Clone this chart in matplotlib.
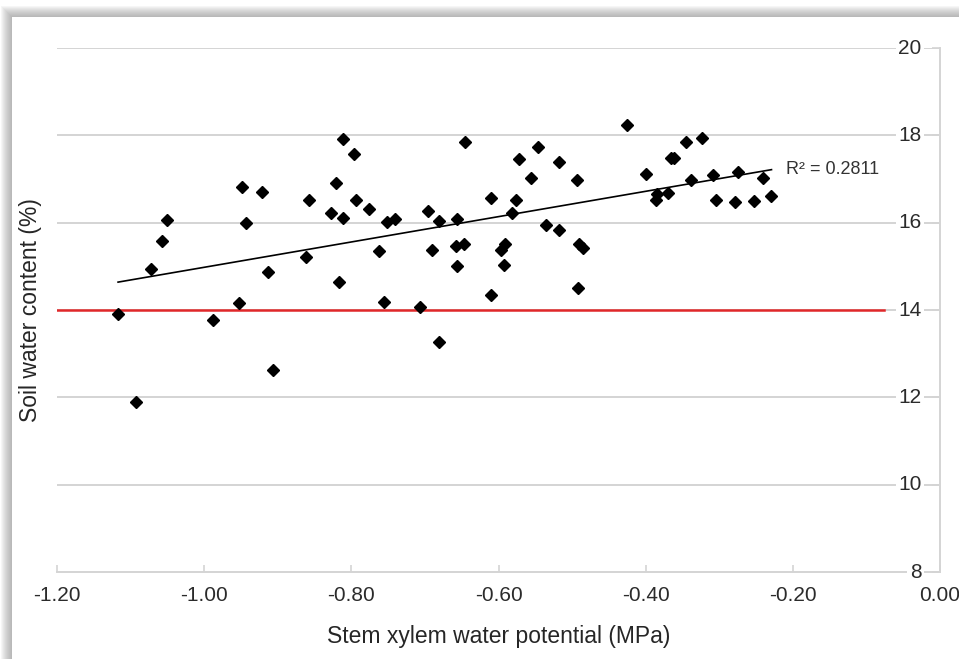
import matplotlib
import matplotlib.pyplot as plt
import numpy as np
from matplotlib.patches import Rectangle

matplotlib.use("AGG")  # no display

# stem xylem water potential (MPa)
potential = [
    -1.117, -1.092, -1.072, -1.057, -1.051, -0.988, -0.952, -0.948, -0.943, -0.922,
    -0.913, -0.906, -0.862, -0.857, -0.828, -0.821, -0.817, -0.812, -0.812, -0.797,
    -0.793, -0.776, -0.763, -0.756, -0.752, -0.741, -0.707, -0.696, -0.690, -0.681,
    -0.681, -0.657, -0.658, -0.657, -0.647, -0.646, -0.610, -0.610, -0.597, -0.591,
    -0.592, -0.581, -0.576, -0.572, -0.556, -0.546, -0.535, -0.518, -0.518, -0.493,
    -0.492, -0.491, -0.485, -0.425, -0.400, -0.386, -0.385, -0.370, -0.366, -0.361,
    -0.345, -0.339, -0.324, -0.309, -0.305, -0.279, -0.274, -0.253, -0.240, -0.229,
]
# soil water content (%)
soil_water = [
    13.91, 11.89, 14.94, 15.58, 16.06, 13.77, 14.16, 16.82, 15.99, 16.70,
    14.87, 12.63, 15.21, 16.52, 16.22, 16.91, 14.64, 17.92, 16.11, 17.57,
    16.52, 16.31, 15.35, 14.18, 16.02, 16.08, 14.07, 16.27, 15.37, 16.04,
    13.27, 16.08, 15.47, 15.01, 15.51, 17.85, 14.34, 16.57, 15.37, 15.51,
    15.03, 16.22, 16.52, 17.46, 17.02, 17.73, 15.95, 17.39, 15.83, 16.98,
    14.50, 15.51, 15.42, 18.24, 17.11, 16.52, 16.66, 16.68, 17.48, 17.48,
    17.85, 16.98, 17.94, 17.09, 16.52, 16.47, 17.16, 16.50, 17.02, 16.61,
]
threshold = 14
r_squared_label = "R² = 0.2811"

x_ticks = [-1.20, -1.00, -0.80, -0.60, -0.40, -0.20, 0.00]
y_ticks = [8, 10, 12, 14, 16, 18, 20]

plt.rcParams["font.family"] = ["Liberation Sans", "DejaVu Sans"]

fig = plt.figure(figsize=(9.59, 6.59), dpi=100)
W, H = 959, 659

# drop shadow round the white panel
for i in range(12):
    fig.patches.append(Rectangle(((12 - i) / W, 0), 1, (H - 17 + i) / H,
                                 transform=fig.transFigure, color="#888888",
                                 alpha=0.07, lw=0, zorder=-3))
fig.patches.append(Rectangle((12 / W, 0), 1, (H - 17) / H, transform=fig.transFigure,
                             color="white", lw=0, zorder=-2))

ax = fig.add_axes([57 / W, 87 / H, 883 / W, 524 / H])
ax.patch.set_alpha(0)

grid_col = "#d4d4d4"
tick_col = "#2b2b2b"
for y in y_ticks[1:]:
    ax.axhline(y, color=grid_col, lw=1.4, zorder=1)
ax.axhline(threshold, xmax=0.937, color="#e0282a", lw=1.8, zorder=2)

ax.plot(potential, soil_water, ls="none", marker="D", ms=5.8, color="black", zorder=4)

# linear trend line over the range of the data
slope, intercept = np.polyfit(potential, soil_water, 1)
fit_x = np.array([min(potential), max(potential)])
ax.plot(fit_x, slope * fit_x + intercept, color="black", lw=1.2, zorder=3)
ax.text(fit_x[1] + 0.02, slope * fit_x[1] + intercept, r_squared_label,
        fontsize=13, color="#333333", va="center", ha="left")

ax.set_xlim(-1.20, 0.0)
ax.set_ylim(8, 20)

for side in ["top", "left"]:
    ax.spines[side].set_visible(False)
ax.spines["bottom"].set_color(grid_col)
ax.spines["right"].set_color(grid_col)
ax.spines["bottom"].set_linewidth(1.4)
ax.spines["right"].set_linewidth(1.4)

ax.set_xticks(x_ticks)
ax.set_xticklabels([f"{t:.2f}" for t in x_ticks])
ax.tick_params(axis="x", direction="in", length=5, width=1.2, color=grid_col,
               pad=10, labelsize=15, labelcolor=tick_col)

# y labels sit inside the plot, left of the axis at x = 0
ax.yaxis.tick_right()
ax.set_yticks(y_ticks)
ax.set_yticklabels([])
ax.tick_params(axis="y", direction="in", length=6, width=1.2, color=grid_col)
for y in y_ticks:
    ax.text(-0.025, y, str(y), fontsize=15, color=tick_col, ha="right", va="center",
            zorder=5, bbox=dict(facecolor="white", edgecolor="none", pad=2.0))

fig.text(499 / W, 1 - 636 / H, "Stem xylem water potential (MPa)", fontsize=16.5,
         color="#262626", ha="center", va="center")
fig.text(31 / W, 1 - 310 / H, "Soil water content (%)", fontsize=16.5, rotation=90,
         color="#262626", ha="center", va="center")

fig.savefig("out.png", dpi=100)
